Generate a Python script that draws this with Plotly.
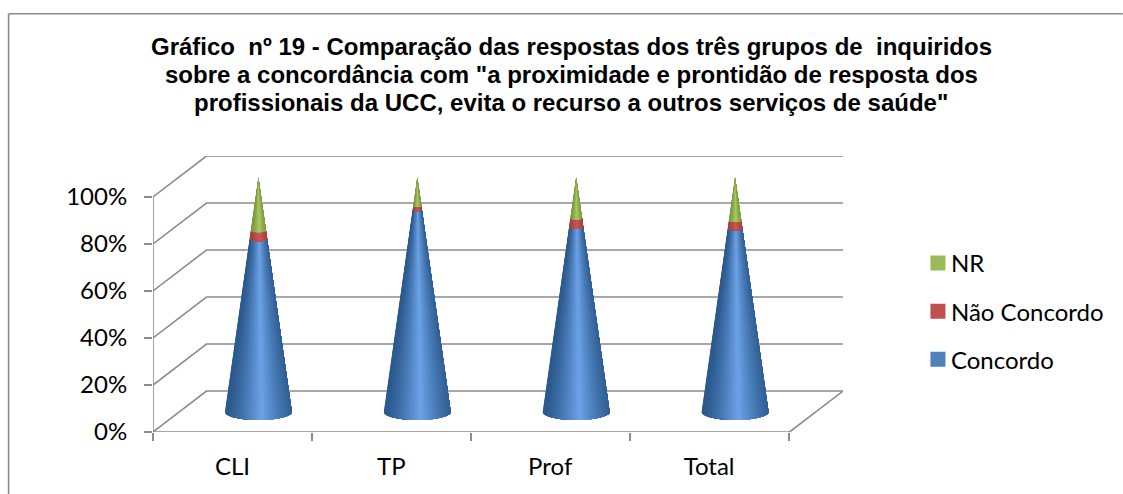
import math
import plotly.graph_objects as go

categories = ["CLI", "TP", "Prof", "Total"]
concordo = [73.7, 86.1, 78.9, 78.2]
nao_concordo = [3.7, 1.7, 3.7, 3.4]
nr = [22.6, 12.2, 17.4, 18.4]
y_ticks = [0, 20, 40, 60, 80, 100]
y_tick_labels = ["0%", "20%", "40%", "60%", "80%", "100%"]

series_names = ["Concordo", "Não Concordo", "NR"]
series_values = [concordo, nao_concordo, nr]
series_base = ["#4F81BD", "#C0504D", "#9BBB59"]
series_edge = ["#2C5A8E", "#A5413E", "#7C9842"]
series_light = ["#6CA3E8", "#CE5652", "#A9CB62"]

title_lines = [
    "Gráfico\u00a0 nº 19 - Comparação das respostas dos três grupos de\u00a0 inquiridos",
    "sobre a concordância com \"a proximidade e prontidão de resposta dos",
    "profissionais da UCC, evita o recurso a outros serviços de saúde\"",
]

# ---- layout geometry (pixels of the 1123x494 page)
W, H = 1123, 494
PX_L, PX_B, PX_R, PX_T = 152.5, 432.0, 843.0, 155.5
PX_CAT, PX_PCT = 159.0, 2.355
x_max = (PX_R - PX_L) / PX_CAT
y_max = (PX_B - PX_T) / PX_PCT
depth_x = 53.5 / PX_CAT
depth_y = 41.0 / PX_PCT
base_dx = 0.5 + 26.0 / PX_CAT
base_dy = 20.0 / PX_PCT
cone_h = 235.0 / PX_PCT
cone_rx = 33.5 / PX_CAT
cone_ry = 8.0 / PX_PCT
GRID = "#8C8C8C"
GW = 1.6
N_STRIPS = 40


def hex_rgb(c):
    return [int(c[i:i + 2], 16) for i in (1, 3, 5)]


def mix(a, b, t):
    ca, cb = hex_rgb(a), hex_rgb(b)
    return "rgb(%d,%d,%d)" % tuple(round(p + (q - p) * t) for p, q in zip(ca, cb))


def paper_x(px):
    return (px - PX_L) / (PX_R - PX_L)


def paper_y(px):
    return (PX_B - px) / (PX_B - PX_T)


def cone_point(c, h, a):
    return (c + base_dx + cone_rx * (1 - h) * math.cos(a),
            base_dy + cone_h * h + cone_ry * (1 - h) * math.sin(a))


fig = go.Figure()

# walls and floor, drawn through the data axes
wall_x, wall_y = [], []
for v in y_ticks:
    wall_x += [0, depth_x, x_max, None]
    wall_y += [v, v + depth_y, v + depth_y, None]
wall_x += [0, 0, None, 0, x_max - depth_x, x_max]
wall_y += [0, 100, None, 0, 0, depth_y]
fig.add_trace(go.Scatter(x=wall_x, y=wall_y, mode="lines",
                         line=dict(color=GRID, width=GW),
                         hoverinfo="skip", showlegend=False))

# cones: painted left to right, each shade reaching the right edge of its band,
# so that the next shade overlaps it and no seams appear
for s in range(len(series_values)):
    for k in range(N_STRIPS):
        angles = [math.pi * (1 + j / N_STRIPS) for j in range(k, N_STRIPS + 1)]
        mid = 0.5 * (math.cos(angles[0]) + math.cos(angles[1]))
        t = max(0.0, 1 - abs(mid - 0.1) / 1.05) ** 1.3
        color = mix(series_edge[s], series_light[s], t)
        xs, ys = [], []
        for c in range(len(categories)):
            h0 = sum(series_values[j][c] for j in range(s)) / 100
            h1 = h0 + series_values[s][c] / 100
            pts = [cone_point(c, h0, a) for a in angles]
            pts += [cone_point(c, h1, a) for a in reversed(angles)]
            pts.append(pts[0])
            xs += [p[0] for p in pts] + [None]
            ys += [p[1] for p in pts] + [None]
        fig.add_trace(go.Scatter(x=xs, y=ys, mode="lines", fill="toself",
                                 fillcolor=color, line=dict(width=0),
                                 hoverinfo="skip", showlegend=False))

# legend entries
for s in (2, 1, 0):
    fig.add_trace(go.Scatter(x=[None], y=[None], mode="markers", name=series_names[s],
                             legendgroup=series_names[s],
                             marker=dict(symbol="square", size=15, color=series_base[s])))

TXT = "Lato"
TXT_SIZE = 24
fig.update_layout(
    width=W, height=H,
    margin=dict(l=PX_L, r=W - PX_R, t=PX_T, b=H - PX_B, pad=0, autoexpand=False),
    paper_bgcolor="white", plot_bgcolor="white",
    annotations=[
        dict(text=line, xref="paper", yref="paper", x=paper_x(571), y=paper_y(45.5 + 28 * i),
             xanchor="center", yanchor="middle", showarrow=False,
             font=dict(family="Liberation Sans", size=24, color="black", weight="bold"))
        for i, line in enumerate(title_lines)
    ],
    xaxis=dict(range=[0, x_max], showgrid=False, zeroline=False, showline=False,
               tickmode="array", tickvals=[i + 0.5 for i in range(len(categories))],
               ticktext=categories, ticks="", ticklabelstandoff=18,
               tickfont=dict(family=TXT, size=TXT_SIZE, color="black"),
               minor=dict(tickmode="array", tickvals=list(range(len(categories) + 1)),
                          ticks="outside", ticklen=8, tickcolor=GRID, tickwidth=GW)),
    yaxis=dict(range=[0, y_max], showgrid=False, zeroline=False, showline=False,
               tickmode="array", tickvals=y_ticks, ticktext=y_tick_labels,
               ticks="outside", ticklen=8, tickcolor=GRID, tickwidth=GW,
               ticklabelstandoff=12,
               tickfont=dict(family=TXT, size=TXT_SIZE, color="black")),
    legend=dict(x=paper_x(911), xanchor="left",
                y=paper_y(240.5), yanchor="top",
                tracegroupgap=14, itemwidth=30,
                font=dict(family=TXT, size=TXT_SIZE, color="black"),
                bgcolor="rgba(0,0,0,0)"),
    shapes=[
        dict(type="line", xref="paper", yref="paper",
             x0=paper_x(8), x1=paper_x(8), y0=paper_y(13), y1=paper_y(H),
             line=dict(color="#8A8A8A", width=1.6)),
        dict(type="line", xref="paper", yref="paper",
             x0=paper_x(8), x1=paper_x(W), y0=paper_y(13), y1=paper_y(13),
             line=dict(color="#8A8A8A", width=1.6)),
    ],
)

fig.write_html("out.html", config={"displayModeBar": False},
               post_script="document.body.style.margin='0';document.body.style.overflow='hidden';"
                           "document.querySelectorAll('.legendsymbols').forEach(function(e){"
                           "e.setAttribute('transform','translate(7,0)');});")
